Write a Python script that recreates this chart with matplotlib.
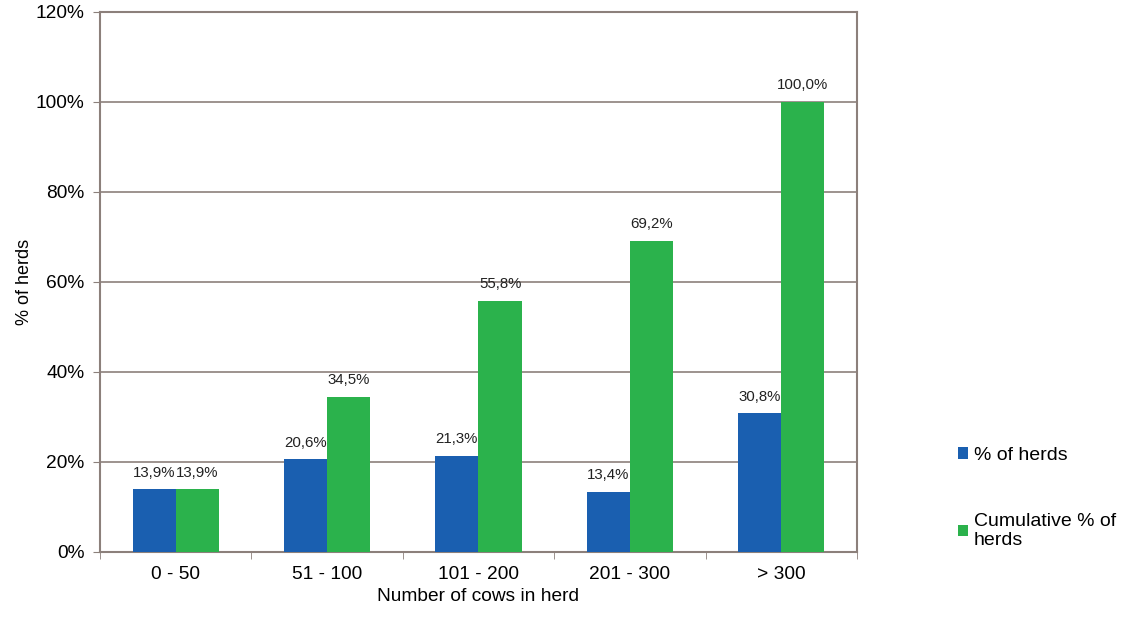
import numpy as np
import matplotlib.pyplot as plt
from matplotlib.ticker import FuncFormatter

plt.rcParams['font.family'] = ['Liberation Sans', 'DejaVu Sans']

categories = ['0 - 50', '51 - 100', '101 - 200', '201 - 300', '> 300']
pct_herds = [13.9, 20.6, 21.3, 13.4, 30.8]
cum_pct_herds = [13.9, 34.5, 55.8, 69.2, 100.0]

blue = '#1a5fb0'
green = '#2bb24c'
frame = '#8c807b'

fig = plt.figure(figsize=(11.34, 6.18), dpi=100)
ax = fig.add_axes([0.0882, 0.1068, 0.6675, 0.8738])

x = np.arange(len(categories))
w = 0.285
b1 = ax.bar(x - w / 2, pct_herds, w, color=blue, label='% of herds', zorder=3)
b2 = ax.bar(x + w / 2, cum_pct_herds, w, color=green, label='Cumulative % of\nherds', zorder=3)

def fmt(v):
    return f'{v:.1f}%'.replace('.', ',')

for bars, vals in ((b1, pct_herds), (b2, cum_pct_herds)):
    for r, v in zip(bars, vals):
        ax.annotate(fmt(v), (r.get_x() + r.get_width() / 2, v),
                    xytext=(0, 7), textcoords='offset points',
                    ha='center', va='bottom', fontsize=10.8, color='#222222')

ax.set_xlim(-0.5, len(categories) - 0.5)
ax.set_ylim(0, 120)
ax.set_yticks(np.arange(0, 121, 20))
ax.yaxis.set_major_formatter(FuncFormatter(lambda v, p: f'{v:.0f}%'))
ax.set_xticks(x)
ax.set_xticklabels(categories)
ax.set_xticks(np.arange(-0.5, len(categories)), minor=True)
ax.tick_params(axis='x', which='major', length=0, pad=10, labelsize=13.8)
ax.tick_params(axis='x', which='minor', length=5, color=frame, direction='out')
ax.tick_params(axis='y', length=5, color=frame, pad=6, labelsize=13.8)

ax.grid(axis='y', color=frame, linewidth=1.2, zorder=0)
for s in ax.spines.values():
    s.set_color(frame)
    s.set_linewidth(1.5)

ax.set_ylabel('% of herds', fontsize=13, labelpad=2)
ax.set_xlabel('Number of cows in herd', fontsize=13.8, labelpad=4)

fig.legend(loc='upper left', bbox_to_anchor=(0.829, 0.305), frameon=False,
           fontsize=14, handlelength=0.55, handleheight=0.55, handletextpad=0.3,
           labelspacing=2.5)

fig.savefig('out.png', dpi=100)
